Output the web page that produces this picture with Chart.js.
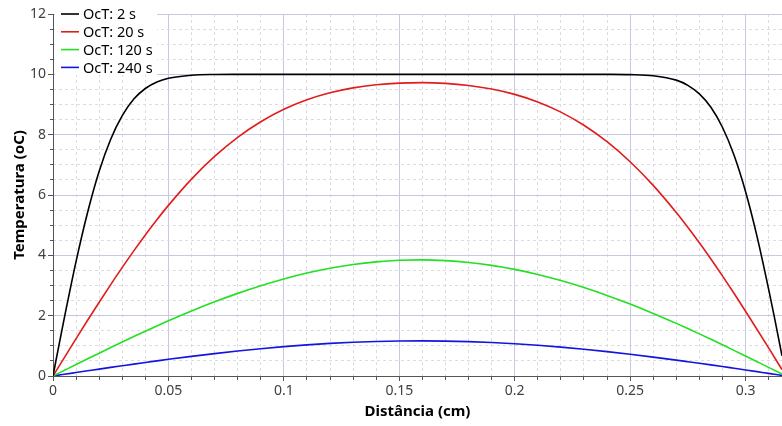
<!DOCTYPE html>
<html>
<head>
<meta charset="utf-8">
<title>Temperatura x Distância</title>
<script src="https://cdn.jsdelivr.net/npm/chart.js@4.4.1/dist/chart.umd.min.js"></script>
<style>
    html, body { margin: 0; padding: 0; background: #fff; }
    #chart { display: block; }
</style>
</head>
<body>
<canvas id="chart" width="782" height="426"></canvas>
<script>
// Values (x in cm, temperature in oC).
var distancia = [0, 0.0025, 0.005, 0.01, 0.015, 0.02, 0.025, 0.03, 0.035, 0.04, 0.045, 0.05,
    0.06, 0.07, 0.08, 0.09, 0.10, 0.11, 0.12, 0.13, 0.14, 0.15, 0.16, 0.17, 0.18, 0.19, 0.20,
    0.21, 0.22, 0.23, 0.24, 0.25, 0.26, 0.27, 0.275, 0.28, 0.285, 0.29, 0.295, 0.30, 0.305,
    0.31, 0.3125, 0.3158];
var temp2s = [0, 0.99, 1.96, 3.80, 5.43, 6.79, 7.85, 8.63, 9.18, 9.53, 9.745, 9.87,
    9.971, 9.995, 9.999, 10, 10, 10, 10, 10, 10, 10, 10, 10, 10, 10, 10,
    10, 10, 10, 9.999, 9.991, 9.954, 9.808, 9.636, 9.354, 8.909, 8.246, 7.324, 6.115, 4.62,
    2.88, 1.95, 0.67];
var temp20s = [0, 0.311, 0.620, 1.237, 1.847, 2.446, 3.031, 3.600, 4.149, 4.677, 5.179, 5.656,
    6.527, 7.278, 7.911, 8.428, 8.841, 9.158, 9.387, 9.550, 9.654, 9.710, 9.726, 9.701, 9.632, 9.514, 9.336,
    9.084, 8.747, 8.311, 7.766, 7.102, 6.320, 5.421, 4.932, 4.416, 3.878, 3.318, 2.741, 2.148, 1.543,
    0.930, 0.621, 0.211];
var temp120s = [0, 0.095, 0.190, 0.380, 0.569, 0.757, 0.943, 1.126, 1.307, 1.484, 1.658, 1.828,
    2.154, 2.458, 2.739, 2.993, 3.218, 3.412, 3.571, 3.696, 3.784, 3.835, 3.850, 3.826, 3.765, 3.667, 3.534,
    3.366, 3.164, 2.932, 2.672, 2.385, 2.074, 1.744, 1.572, 1.396, 1.217, 1.035, 0.850, 0.663, 0.475,
    0.286, 0.190, 0.065];
var temp240s = [0, 0.029, 0.058, 0.115, 0.172, 0.229, 0.285, 0.340, 0.395, 0.449, 0.501, 0.553,
    0.651, 0.743, 0.828, 0.905, 0.973, 1.032, 1.080, 1.117, 1.144, 1.160, 1.164, 1.157, 1.138, 1.109, 1.068,
    1.018, 0.957, 0.887, 0.808, 0.721, 0.627, 0.527, 0.475, 0.422, 0.368, 0.313, 0.257, 0.201, 0.144,
    0.086, 0.058, 0.020];
var serieLabels = ['OcT: 2 s', 'OcT: 20 s', 'OcT: 120 s', 'OcT: 240 s'];
var serieColors = ['#000000', '#e01c1c', '#22e022', '#1414e0'];

// Axis ranges and tick steps
var xMin = 0, xMax = 0.3158, xMajorStep = 0.05, xMinorStep = 0.01;
var yMin = 0, yMax = 12, yMajorStep = 2, yMinorStep = 0.5;

var majorGrid = '#c8c8e4';
var minorGrid = '#dcdce6';
var axisColor = '#555555';

Chart.defaults.font.family = "'Noto Sans', sans-serif";
Chart.defaults.font.size = 14;
Chart.defaults.color = '#404040';

/**
 * Pair x values with one series.
 * @param {Array} ys Series values
 * @return {Array} points
 */
function toPoints(ys) {
    return distancia.map(function(x, i) {
        return {x: x, y: ys[i]};
    });
}

/**
 * Legend drawn inside the top left corner, on a white box.
 */
var insideLegend = {
    id: 'insideLegend',
    afterDraw: function(chart) {
        var ctx = chart.ctx;
        var sets = chart.data.datasets;
        ctx.save();
        ctx.fillStyle = '#ffffff';
        ctx.fillRect(55, 2, 102, 73);
        ctx.font = "14.5px 'Noto Sans', sans-serif";
        ctx.textBaseline = 'middle';
        ctx.textAlign = 'left';
        sets.forEach(function(ds, i) {
            var y = 14 + i * 17.8;
            ctx.strokeStyle = ds.borderColor;
            ctx.lineWidth = 1.6;
            ctx.beginPath();
            ctx.moveTo(61, y);
            ctx.lineTo(79, y);
            ctx.stroke();
            ctx.fillStyle = '#000000';
            ctx.fillText(ds.label, 83, y + 1);
        });
        ctx.restore();
    }
};

var datasets = [temp2s, temp20s, temp120s, temp240s].map(function(ys, i) {
    return {
        label: serieLabels[i],
        data: toPoints(ys),
        borderColor: serieColors[i],
        borderWidth: 1.6,
        pointRadius: 0,
        fill: false,
        cubicInterpolationMode: 'monotone'
    };
});

new Chart(document.getElementById('chart'), {
    type: 'line',
    data: {datasets: datasets},
    options: {
        responsive: false,
        animation: false,
        devicePixelRatio: 1,
        layout: {padding: {top: 14, right: 0, left: 0, bottom: 0}},
        plugins: {
            legend: {display: false},
            tooltip: {enabled: false}
        },
        scales: {
            xMinor: {
                type: 'linear',
                position: 'bottom',
                weight: 0,
                min: xMin,
                max: xMax,
                ticks: {display: false, stepSize: xMinorStep, autoSkip: false, includeBounds: false},
                grid: {color: minorGrid, lineWidth: 1, tickLength: 4, tickColor: axisColor},
                border: {display: false, dash: [3, 3]},
                afterFit: function(scale) {
                    scale.height = 0;
                }
            },
            x: {
                type: 'linear',
                position: 'bottom',
                weight: 1,
                min: xMin,
                max: xMax,
                ticks: {
                    stepSize: xMajorStep,
                    autoSkip: false,
                    includeBounds: false,
                    maxRotation: 0,
                    padding: 2,
                    callback: function(v) {
                        return String(+v.toFixed(2));
                    }
                },
                grid: {color: majorGrid, lineWidth: 1, tickLength: 5, tickColor: axisColor},
                border: {display: true, color: axisColor, width: 1},
                title: {
                    display: true,
                    text: 'Distância (cm)',
                    color: '#000000',
                    font: {weight: 'bold', size: 15},
                    padding: {top: 0, bottom: 5}
                },
                afterFit: function(scale) {
                    scale.height = 50;
                }
            },
            yMinor: {
                type: 'linear',
                position: 'left',
                weight: 0,
                min: yMin,
                max: yMax,
                ticks: {display: false, stepSize: yMinorStep, autoSkip: false},
                grid: {color: minorGrid, lineWidth: 1, tickLength: 3, tickColor: axisColor},
                border: {display: false, dash: [3, 3]},
                afterFit: function(scale) {
                    scale.width = 0;
                }
            },
            y: {
                type: 'linear',
                position: 'left',
                weight: 1,
                min: yMin,
                max: yMax,
                ticks: {
                    stepSize: yMajorStep,
                    autoSkip: false,
                    padding: 2,
                    callback: function(v) {
                        return String(v);
                    }
                },
                grid: {color: majorGrid, lineWidth: 1, tickLength: 5, tickColor: axisColor},
                border: {display: true, color: axisColor, width: 1},
                title: {
                    display: true,
                    text: 'Temperatura (oC)',
                    color: '#000000',
                    font: {weight: 'bold', size: 15},
                    padding: {top: 11, bottom: 0}
                },
                afterFit: function(scale) {
                    scale.width = 53;
                }
            }
        }
    },
    plugins: [insideLegend]
});
</script>
</body>
</html>
